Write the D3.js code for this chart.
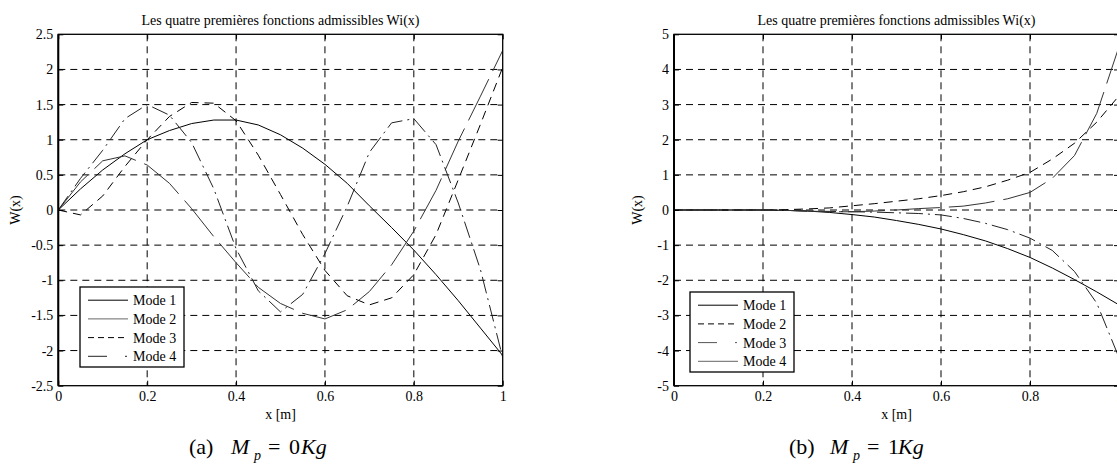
<!DOCTYPE html>
<html>
<head>
<meta charset="utf-8">
<script src="https://cdn.jsdelivr.net/npm/d3@7"></script>
<style>
  body { margin: 0; background: #fff; }
  svg { display: block; }
  text { font-family: "Liberation Serif", "Times New Roman", serif; fill: #000; }
</style>
</head>
<body>
<svg id="fig" width="1117" height="469"></svg>
<script>
// Abscissa samples along the beam, x [m]
const xs = [0, 0.05, 0.1, 0.15, 0.2, 0.25, 0.3, 0.35, 0.4, 0.45, 0.5,
            0.55, 0.6, 0.65, 0.7, 0.75, 0.8, 0.85, 0.9, 0.95, 1.0];

const modeNames = ["Mode 1", "Mode 2", "Mode 3", "Mode 4"];

// Panel (a): tip mass Mp = 0 Kg
const a_mode1 = [0, 0.3, 0.57, 0.8, 1.0, 1.13, 1.23, 1.28, 1.28, 1.21, 1.07,
                 0.88, 0.65, 0.38, 0.06, -0.25, -0.57, -0.92, -1.29, -1.68, -2.07];
const a_mode2 = [0, 0.4, 0.7, 0.77, 0.64, 0.38, 0.02, -0.38, -0.75, -1.1, -1.33,
                 -1.47, -1.55, -1.42, -1.16, -0.78, -0.3, 0.28, 0.98, 1.62, 2.27];
const a_mode3 = [0, -0.07, 0.2, 0.62, 1.0, 1.33, 1.53, 1.52, 1.27, 0.78, 0.22,
                 -0.35, -0.86, -1.22, -1.35, -1.25, -0.92, -0.35, 0.43, 1.22, 2.03];
const a_mode4 = [0, 0.45, 0.85, 1.3, 1.5, 1.35, 0.96, 0.3, -0.55, -1.15, -1.45,
                 -1.2, -0.62, 0.05, 0.82, 1.24, 1.3, 0.93, 0.1, -0.85, -2.1];

// Panel (b): tip mass Mp = 1 Kg
const b_mode1 = [0, 0, 0, 0, 0, -0.01, -0.03, -0.07, -0.13, -0.2, -0.3,
                 -0.41, -0.54, -0.7, -0.88, -1.1, -1.35, -1.65, -1.98, -2.33, -2.7];
const b_mode2 = [0, 0, 0, 0, 0, 0.01, 0.03, 0.06, 0.12, 0.18, 0.25,
                 0.32, 0.41, 0.52, 0.66, 0.85, 1.07, 1.45, 1.9, 2.5, 3.25];
const b_mode3 = [0, 0, 0, 0, 0, -0.01, -0.03, -0.04, -0.05, -0.06, -0.08,
                 -0.1, -0.14, -0.24, -0.38, -0.56, -0.8, -1.15, -1.75, -2.65, -4.2];
const b_mode4 = [0, 0, 0, 0, 0, -0.01, -0.03, -0.05, -0.05, -0.03, 0,
                 0.04, 0.07, 0.11, 0.2, 0.32, 0.5, 0.9, 1.55, 2.75, 4.65];

// Tick values and labels
const xTicks = [0, 0.2, 0.4, 0.6, 0.8, 1];
const xTickLabels = ["0", "0.2", "0.4", "0.6", "0.8", "1"];
const aYTicks = [-2.5, -2, -1.5, -1, -0.5, 0, 0.5, 1, 1.5, 2, 2.5];
const aYTickLabels = ["-2.5", "-2", "-1.5", "-1", "-0.5", "0", "0.5", "1", "1.5", "2", "2.5"];
const bYTicks = [-5, -4, -3, -2, -1, 0, 1, 2, 3, 4, 5];
const bYTickLabels = ["-5", "-4", "-3", "-2", "-1", "0", "1", "2", "3", "4", "5"];

const titleText = "Les quatre premières fonctions admissibles Wi(x)";
const xLabelText = "x [m]";
const yLabelText = "W(x)";

// Line styles
const SOLID = { dash: null, legendDash: null, color: "#000" };
const LONG = { dash: "46,9", legendDash: null, color: "#333" };
const DASHED = { dash: "9,6", legendDash: "6,4", color: "#000" };
const DASHDOT = { dash: "17,5,2,5", legendDash: "19,18,2,20", color: "#222" };

const svg = d3.select("#fig");
svg.append("rect").attr("width", 1117).attr("height", 469).attr("fill", "#fff");

const plotTop = 34.3, plotBottom = 385.7;

function panel(opts) {
  const g = svg.append("g");
  const x = d3.scaleLinear().domain([0, 1]).range([opts.x0, opts.x1]);
  const y = d3.scaleLinear().domain(opts.yDomain).range([plotBottom, plotTop]);

  const clipId = "clip-" + opts.id;
  svg.append("clipPath").attr("id", clipId)
    .append("rect").attr("x", opts.x0).attr("y", plotTop)
    .attr("width", opts.x1 - opts.x0).attr("height", plotBottom - plotTop);

  // dashed grid
  const grid = g.append("g").attr("stroke", "#000").attr("stroke-width", 1)
    .attr("stroke-dasharray", "7,5").attr("fill", "none");
  grid.selectAll("line.gx").data(xTicks.slice(1, -1)).join("line")
    .attr("class", "gx")
    .attr("x1", d => x(d)).attr("x2", d => x(d))
    .attr("y1", plotTop).attr("y2", plotBottom);
  grid.selectAll("line.gy").data(opts.yTicks.slice(1, -1)).join("line")
    .attr("class", "gy")
    .attr("x1", opts.x0).attr("x2", opts.x1)
    .attr("y1", d => y(d)).attr("y2", d => y(d));

  // curves
  const line = d3.line().x((d, i) => x(xs[i])).y(d => y(d)).curve(d3.curveLinear);
  const curves = g.append("g").attr("clip-path", `url(#${clipId})`);
  opts.series.forEach((s, k) => {
    const st = opts.styles[k];
    curves.append("path").datum(s)
      .attr("d", line)
      .attr("fill", "none")
      .attr("stroke", st.color)
      .attr("stroke-width", 1)
      .attr("stroke-dasharray", st.dash);
  });

  // axes with inward ticks
  const fmtX = (d, i) => xTickLabels[i];
  const fmtY = (d, i) => opts.yTickLabels[i];
  const bx = g.append("g").attr("transform", `translate(0,${plotBottom})`)
    .call(d3.axisBottom(x).tickValues(xTicks).tickFormat(fmtX).tickSize(-5).tickPadding(5.5));
  const ly = g.append("g").attr("transform", `translate(${opts.x0},0)`)
    .call(d3.axisLeft(y).tickValues(opts.yTicks).tickFormat(fmtY).tickSize(-5).tickPadding(5));
  const tx = g.append("g").attr("transform", `translate(0,${plotTop})`)
    .call(d3.axisTop(x).tickValues(xTicks).tickFormat("").tickSize(-5));
  const ry = g.append("g").attr("transform", `translate(${opts.x1},0)`)
    .call(d3.axisRight(y).tickValues(opts.yTicks).tickFormat("").tickSize(-5));
  [bx, ly, tx, ry].forEach(a => {
    a.select(".domain").remove();
    a.selectAll(".tick line").attr("stroke", "#000").attr("stroke-width", 1);
    a.selectAll("text").attr("font-size", 14).attr("font-family", "Liberation Serif").attr("fill", "#000");
  });

  // frame
  g.append("rect").attr("x", opts.x0).attr("y", plotTop)
    .attr("width", opts.x1 - opts.x0).attr("height", plotBottom - plotTop)
    .attr("fill", "none").attr("stroke", "#000").attr("stroke-width", 1.3);
  g.append("line").attr("x1", opts.x0).attr("x2", opts.x0)
    .attr("y1", plotTop).attr("y2", plotBottom).attr("stroke", "#000").attr("stroke-width", 2);

  // title and axis labels
  const cx = (opts.x0 + opts.x1) / 2;
  g.append("text").attr("x", cx).attr("y", 24.5).attr("text-anchor", "middle")
    .attr("font-size", 14).text(titleText);
  g.append("text").attr("x", cx).attr("y", 419).attr("text-anchor", "middle")
    .attr("font-size", 14).text(xLabelText);
  g.append("text").attr("transform", `translate(${opts.yLabelX},${(plotTop + plotBottom) / 2}) rotate(-90)`)
    .attr("text-anchor", "middle").attr("font-size", 14).text(yLabelText);

  // legend
  const L = opts.legend;
  const leg = g.append("g");
  leg.append("rect").attr("x", L.x).attr("y", L.y).attr("width", 104).attr("height", 80)
    .attr("fill", "#fff").attr("stroke", "#000").attr("stroke-width", 1.3);
  modeNames.forEach((name, k) => {
    const st = opts.styles[k];
    const ry0 = L.y + 13.2 + k * 18.7;
    leg.append("line").attr("x1", L.x + 8).attr("x2", L.x + 48)
      .attr("y1", ry0).attr("y2", ry0)
      .attr("stroke", st.legendColor || st.color).attr("stroke-width", 1)
      .attr("stroke-dasharray", st.legendDash);
    leg.append("text").attr("x", L.x + 53).attr("y", ry0 + 5)
      .attr("font-size", 14).text(name);
  });

  // caption below the panel
  const cap = svg.append("text").attr("y", 454).attr("font-size", 22);
  opts.caption.forEach(p => {
    cap.append("tspan").attr("x", p.x).attr("y", p.y || 454)
      .attr("font-style", p.italic ? "italic" : "normal")
      .attr("font-size", p.size || 22).text(p.t);
  });
}

panel({
  id: "a", x0: 58.3, x1: 502.7, yDomain: [-2.5, 2.5],
  yTicks: aYTicks, yTickLabels: aYTickLabels, yLabelX: 20,
  series: [a_mode1, a_mode2, a_mode3, a_mode4],
  styles: [SOLID, Object.assign({}, LONG, { legendColor: "#666" }), DASHED, DASHDOT],
  legend: { x: 80, y: 287 },
  caption: [
    { t: "(a)", x: 189 },
    { t: "M", x: 231, italic: true },
    { t: "p", x: 254, italic: true, size: 14, y: 460 },
    { t: "=", x: 268 },
    { t: "0", x: 289 },
    { t: "Kg", x: 301, italic: true }
  ]
});

panel({
  id: "b", x0: 674, x1: 1119, yDomain: [-5, 5],
  yTicks: bYTicks, yTickLabels: bYTickLabels, yLabelX: 642,
  series: [b_mode1, b_mode2, b_mode3, b_mode4],
  styles: [SOLID, DASHED, Object.assign({}, DASHDOT, { legendColor: "#555" }),
           Object.assign({}, LONG, { legendColor: "#666" })],
  legend: { x: 690, y: 292 },
  caption: [
    { t: "(b)", x: 789 },
    { t: "M", x: 830, italic: true },
    { t: "p", x: 853, italic: true, size: 14, y: 460 },
    { t: "=", x: 867 },
    { t: "1", x: 888 },
    { t: "Kg", x: 898, italic: true }
  ]
});
</script>
</body>
</html>
